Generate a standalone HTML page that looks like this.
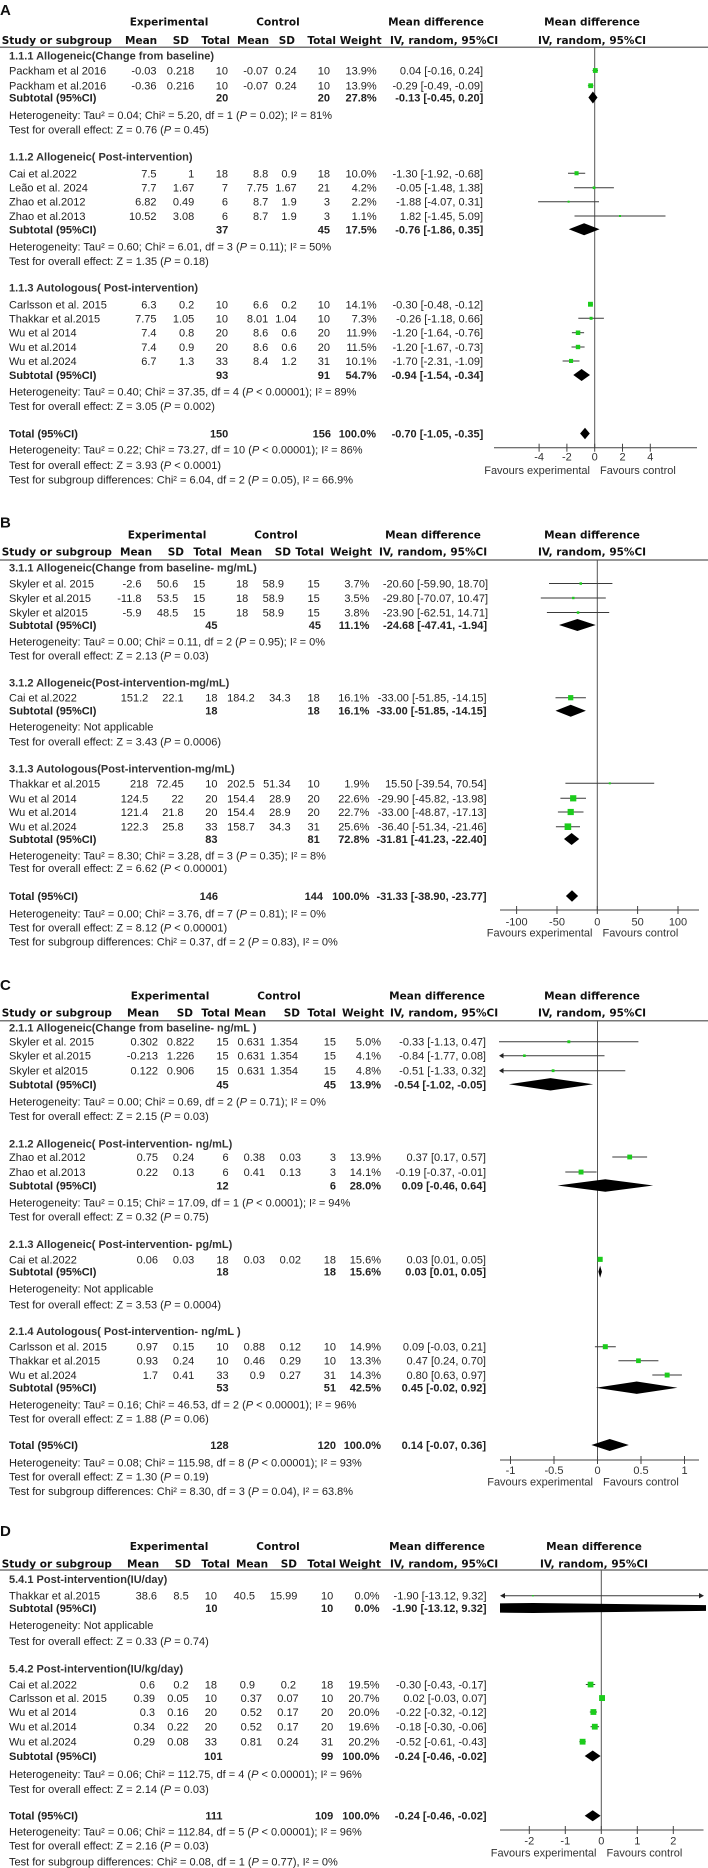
<!DOCTYPE html>
<html>
<head>
<meta charset="utf-8">
<style>
html,body{margin:0;padding:0;background:#fff;}
svg{display:block;}
text{font-family:"Liberation Sans",Arial,sans-serif;font-size:11px;fill:#222;}
.h{font-family:"DejaVu Sans","Liberation Sans",sans-serif;font-weight:bold;font-size:10.5px;fill:#111;}
.b{font-weight:bold;}
.sg{font-weight:bold;fill:#333;}
.lab{font-weight:bold;font-size:15px;fill:#111;}
.ax{fill:#333;}
.sq{fill:#1ccc1c;}
.ci{stroke:#3a3a3a;stroke-width:1;}
.z{stroke:#555;stroke-width:1;}
.hl{stroke:#777;stroke-width:1.5;}
</style>
</head>
<body>
<svg width="708" height="1868" viewBox="0 0 708 1868" xmlns="http://www.w3.org/2000/svg">
<defs>
<clipPath id="cd"><rect x="500" y="1590" width="206" height="40"/></clipPath>
</defs>
<rect x="0" y="0" width="708" height="1868" fill="#fff"/>

<!-- ================= PANEL A ================= -->
<text class="lab" x="0" y="15">A</text>
<text class="h" x="169" y="25.7" text-anchor="middle">Experimental</text>
<text class="h" x="278" y="25.7" text-anchor="middle">Control</text>
<text class="h" x="436" y="25.7" text-anchor="middle">Mean difference</text>
<text class="h" x="592" y="25.7" text-anchor="middle">Mean difference</text>
<text class="h" x="1.7" y="44">Study or subgroup</text>
<text class="h" x="125" y="44">Mean</text>
<text class="h" x="189" y="44" text-anchor="end">SD</text>
<text class="h" x="230" y="44" text-anchor="end">Total</text>
<text class="h" x="237" y="44">Mean</text>
<text class="h" x="295" y="44" text-anchor="end">SD</text>
<text class="h" x="336" y="44" text-anchor="end">Total</text>
<text class="h" x="381.7" y="44" text-anchor="end">Weight</text>
<text class="h" x="390" y="44">IV, random, 95%CI</text>
<text class="h" x="592" y="44" text-anchor="middle">IV, random, 95%CI</text>
<line class="hl" x1="0" y1="47.3" x2="708" y2="47.3"/>

<text class="sg" x="9" y="59.5">1.1.1 Allogeneic(Change from baseline)</text>
<text x="9" y="74.5">Packham et al 2016</text>
<g text-anchor="end"><text x="156.5" y="74.5">-0.03</text><text x="194.3" y="74.5">0.218</text><text x="228" y="74.5">10</text><text x="268.3" y="74.5">-0.07</text><text x="296.7" y="74.5">0.24</text><text x="330" y="74.5">10</text><text x="376.7" y="74.5">13.9%</text><text x="483" y="74.5">0.04 [-0.16, 0.24]</text></g>
<text x="9" y="89.7">Packham et al.2016</text>
<g text-anchor="end"><text x="156.5" y="89.7">-0.36</text><text x="194.3" y="89.7">0.216</text><text x="228" y="89.7">10</text><text x="268.3" y="89.7">-0.07</text><text x="296.7" y="89.7">0.24</text><text x="330" y="89.7">10</text><text x="376.7" y="89.7">13.9%</text><text x="483" y="89.7">-0.29 [-0.49, -0.09]</text></g>
<text class="b" x="9" y="101.5">Subtotal (95%CI)</text>
<g text-anchor="end" class="b"><text class="b" x="228.3" y="101.5">20</text><text class="b" x="330" y="101.5">20</text><text class="b" x="376.7" y="101.5">27.8%</text><text class="b" x="483.3" y="101.5">-0.13 [-0.45, 0.20]</text></g>
<text x="9" y="119">Heterogeneity: Tau² = 0.04; Chi² = 5.20, df = 1 (<tspan font-style="italic">P</tspan> = 0.02); I² = 81%</text>
<text x="9" y="133.3">Test for overall effect: Z = 0.76 (<tspan font-style="italic">P</tspan> = 0.45)</text>

<text class="sg" x="9" y="160.3">1.1.2 Allogeneic( Post-intervention)</text>
<text x="9" y="177.3">Cai et al.2022</text>
<g text-anchor="end"><text x="156.5" y="177.3">7.5</text><text x="194.3" y="177.3">1</text><text x="228" y="177.3">18</text><text x="268.3" y="177.3">8.8</text><text x="296.7" y="177.3">0.9</text><text x="330" y="177.3">18</text><text x="376.7" y="177.3">10.0%</text><text x="483" y="177.3">-1.30 [-1.92, -0.68]</text></g>
<text x="9" y="191.7">Leão et al. 2024</text>
<g text-anchor="end"><text x="156.5" y="191.7">7.7</text><text x="194.3" y="191.7">1.67</text><text x="228" y="191.7">7</text><text x="268.3" y="191.7">7.75</text><text x="296.7" y="191.7">1.67</text><text x="330" y="191.7">21</text><text x="376.7" y="191.7">4.2%</text><text x="483" y="191.7">-0.05 [-1.48, 1.38]</text></g>
<text x="9" y="205.7">Zhao et al.2012</text>
<g text-anchor="end"><text x="156.5" y="205.7">6.82</text><text x="194.3" y="205.7">0.49</text><text x="228" y="205.7">6</text><text x="268.3" y="205.7">8.7</text><text x="296.7" y="205.7">1.9</text><text x="330" y="205.7">3</text><text x="376.7" y="205.7">2.2%</text><text x="483" y="205.7">-1.88 [-4.07, 0.31]</text></g>
<text x="9" y="220">Zhao et al.2013</text>
<g text-anchor="end"><text x="156.5" y="220">10.52</text><text x="194.3" y="220">3.08</text><text x="228" y="220">6</text><text x="268.3" y="220">8.7</text><text x="296.7" y="220">1.9</text><text x="330" y="220">3</text><text x="376.7" y="220">1.1%</text><text x="483" y="220">1.82 [-1.45, 5.09]</text></g>
<text class="b" x="9" y="233.3">Subtotal (95%CI)</text>
<g text-anchor="end"><text class="b" x="228.3" y="233.3">37</text><text class="b" x="330" y="233.3">45</text><text class="b" x="376.7" y="233.3">17.5%</text><text class="b" x="483.3" y="233.3">-0.76 [-1.86, 0.35]</text></g>
<text x="9" y="250.7">Heterogeneity: Tau² = 0.60; Chi² = 6.01, df = 3 (<tspan font-style="italic">P</tspan> = 0.11); I² = 50%</text>
<text x="9" y="265">Test for overall effect: Z = 1.35 (<tspan font-style="italic">P</tspan> = 0.18)</text>

<text class="sg" x="9" y="291.7">1.1.3 Autologous( Post-intervention)</text>
<text x="9" y="308.3">Carlsson et al. 2015</text>
<g text-anchor="end"><text x="156.5" y="308.3">6.3</text><text x="194.3" y="308.3">0.2</text><text x="228" y="308.3">10</text><text x="268.3" y="308.3">6.6</text><text x="296.7" y="308.3">0.2</text><text x="330" y="308.3">10</text><text x="376.7" y="308.3">14.1%</text><text x="483" y="308.3">-0.30 [-0.48, -0.12]</text></g>
<text x="9" y="322.3">Thakkar et al.2015</text>
<g text-anchor="end"><text x="156.5" y="322.3">7.75</text><text x="194.3" y="322.3">1.05</text><text x="228" y="322.3">10</text><text x="268.3" y="322.3">8.01</text><text x="296.7" y="322.3">1.04</text><text x="330" y="322.3">10</text><text x="376.7" y="322.3">7.3%</text><text x="483" y="322.3">-0.26 [-1.18, 0.66]</text></g>
<text x="9" y="336.7">Wu et al 2014</text>
<g text-anchor="end"><text x="156.5" y="336.7">7.4</text><text x="194.3" y="336.7">0.8</text><text x="228" y="336.7">20</text><text x="268.3" y="336.7">8.6</text><text x="296.7" y="336.7">0.6</text><text x="330" y="336.7">20</text><text x="376.7" y="336.7">11.9%</text><text x="483" y="336.7">-1.20 [-1.64, -0.76]</text></g>
<text x="9" y="351">Wu et al.2014</text>
<g text-anchor="end"><text x="156.5" y="351">7.4</text><text x="194.3" y="351">0.9</text><text x="228" y="351">20</text><text x="268.3" y="351">8.6</text><text x="296.7" y="351">0.6</text><text x="330" y="351">20</text><text x="376.7" y="351">11.5%</text><text x="483" y="351">-1.20 [-1.67, -0.73]</text></g>
<text x="9" y="365">Wu et al.2024</text>
<g text-anchor="end"><text x="156.5" y="365">6.7</text><text x="194.3" y="365">1.3</text><text x="228" y="365">33</text><text x="268.3" y="365">8.4</text><text x="296.7" y="365">1.2</text><text x="330" y="365">31</text><text x="376.7" y="365">10.1%</text><text x="483" y="365">-1.70 [-2.31, -1.09]</text></g>
<text class="b" x="9" y="379">Subtotal (95%CI)</text>
<g text-anchor="end"><text class="b" x="228.3" y="379">93</text><text class="b" x="330" y="379">91</text><text class="b" x="376.7" y="379">54.7%</text><text class="b" x="483.3" y="379">-0.94 [-1.54, -0.34]</text></g>
<text x="9" y="395.7">Heterogeneity: Tau² = 0.40; Chi² = 37.35, df = 4 (<tspan font-style="italic">P</tspan> &lt; 0.00001); I² = 89%</text>
<text x="9" y="410">Test for overall effect: Z = 3.05 (<tspan font-style="italic">P</tspan> = 0.002)</text>

<text class="b" x="9" y="437.5">Total (95%CI)</text>
<g text-anchor="end"><text class="b" x="228.3" y="437.5">150</text><text class="b" x="331" y="437.5">156</text><text class="b" x="376" y="437.5">100.0%</text><text class="b" x="483.3" y="437.5">-0.70 [-1.05, -0.35]</text></g>
<text x="9" y="453.3">Heterogeneity: Tau² = 0.22; Chi² = 73.27, df = 10 (<tspan font-style="italic">P</tspan> &lt; 0.00001); I² = 86%</text>
<text x="9" y="469">Test for overall effect: Z = 3.93 (<tspan font-style="italic">P</tspan> &lt; 0.0001)</text>
<text x="9" y="483.3">Test for subgroup differences: Chi² = 6.04, df = 2 (<tspan font-style="italic">P</tspan> = 0.05), I² = 66.9%</text>

<!-- A forest -->
<line class="z" x1="594.7" y1="47.3" x2="594.7" y2="447.7"/>
<line class="ci" x1="592.5" y1="70.5" x2="598" y2="70.5"/><rect class="sq" x="592.9" y="68.1" width="4.8" height="4.8"/>
<line class="ci" x1="587.9" y1="85.7" x2="593.4" y2="85.7"/><rect class="sq" x="588.3" y="83.3" width="4.8" height="4.8"/>
<polygon points="588.4,97.5 592.9,91.5 597.5,97.5 592.9,103.5" fill="#000"/>
<line class="ci" x1="568" y1="173.3" x2="585.2" y2="173.3"/><rect class="sq" x="574.5" y="171.2" width="4.1" height="4.1"/>
<line class="ci" x1="574.1" y1="187.7" x2="613.9" y2="187.7"/><rect class="sq" x="592.7" y="186.4" width="2.7" height="2.7"/>
<line class="ci" x1="538.1" y1="201.7" x2="599" y2="201.7"/><rect class="sq" x="567.6" y="200.7" width="2" height="2"/>
<line class="ci" x1="574.5" y1="216" x2="665.5" y2="216"/><rect class="sq" x="619" y="215" width="2" height="2"/>
<polygon points="568.8,229.3 584.1,223.3 599.6,229.3 584.1,235.3" fill="#000"/>
<line class="ci" x1="588" y1="304.3" x2="593" y2="304.3"/><rect class="sq" x="588" y="301.8" width="4.9" height="4.9"/>
<line class="ci" x1="578.3" y1="318.3" x2="603.9" y2="318.3"/><rect class="sq" x="589.6" y="316.8" width="3" height="3"/>
<line class="ci" x1="571.9" y1="332.7" x2="584.1" y2="332.7"/><rect class="sq" x="575.8" y="330.5" width="4.5" height="4.5"/>
<line class="ci" x1="571.5" y1="347" x2="584.6" y2="347"/><rect class="sq" x="575.8" y="344.8" width="4.4" height="4.4"/>
<line class="ci" x1="562.6" y1="361" x2="579.5" y2="361"/><rect class="sq" x="569" y="358.9" width="4.1" height="4.1"/>
<polygon points="573.3,375 581.6,369 590,375 581.6,381" fill="#000"/>
<polygon points="580.1,433.5 585,427.8 589.8,433.5 585,439.2" fill="#000"/>
<line stroke="#444" x1="494" y1="447.7" x2="697" y2="447.7"/>
<g stroke="#444"><line x1="539.1" y1="443.7" x2="539.1" y2="451.7"/><line x1="566.9" y1="443.7" x2="566.9" y2="451.7"/><line x1="594.7" y1="443.7" x2="594.7" y2="451.7"/><line x1="622.5" y1="443.7" x2="622.5" y2="451.7"/><line x1="650.3" y1="443.7" x2="650.3" y2="451.7"/></g>
<g text-anchor="middle" class="ax"><text class="ax" x="539.1" y="460.7">-4</text><text class="ax" x="566.9" y="460.7">-2</text><text class="ax" x="594.7" y="460.7">0</text><text class="ax" x="622.5" y="460.7">2</text><text class="ax" x="650.3" y="460.7">4</text></g>
<text class="ax" x="590" y="474" text-anchor="end">Favours experimental</text>
<text class="ax" x="600" y="474">Favours control</text>

<!-- ================= PANEL B ================= -->
<text class="lab" x="0" y="527.3">B</text>
<text class="h" x="167" y="538.5" text-anchor="middle">Experimental</text>
<text class="h" x="276" y="538.5" text-anchor="middle">Control</text>
<text class="h" x="433" y="538.5" text-anchor="middle">Mean difference</text>
<text class="h" x="592" y="538.5" text-anchor="middle">Mean difference</text>
<text class="h" x="1.7" y="555.7">Study or subgroup</text>
<text class="h" x="120" y="555.7">Mean</text>
<text class="h" x="184" y="555.7" text-anchor="end">SD</text>
<text class="h" x="222" y="555.7" text-anchor="end">Total</text>
<text class="h" x="230" y="555.7">Mean</text>
<text class="h" x="291" y="555.7" text-anchor="end">SD</text>
<text class="h" x="324" y="555.7" text-anchor="end">Total</text>
<text class="h" x="372" y="555.7" text-anchor="end">Weight</text>
<text class="h" x="379" y="555.7">IV, random, 95%CI</text>
<text class="h" x="592" y="555.7" text-anchor="middle">IV, random, 95%CI</text>
<line class="hl" x1="0" y1="560" x2="708" y2="560"/>

<text class="sg" x="9" y="571.5">3.1.1 Allogeneic(Change from baseline- mg/mL)</text>
<text x="9" y="587.5">Skyler et al. 2015</text>
<g text-anchor="end"><text x="141.5" y="587.5">-2.6</text><text x="178.3" y="587.5">50.6</text><text x="205.3" y="587.5">15</text><text x="248.3" y="587.5">18</text><text x="284" y="587.5">58.9</text><text x="319.8" y="587.5">15</text><text x="369.4" y="587.5">3.7%</text><text x="488" y="587.5">-20.60 [-59.90, 18.70]</text></g>
<text x="9" y="602">Skyler et al.2015</text>
<g text-anchor="end"><text x="141.5" y="602">-11.8</text><text x="178.3" y="602">53.5</text><text x="205.3" y="602">15</text><text x="248.3" y="602">18</text><text x="284" y="602">58.9</text><text x="319.8" y="602">15</text><text x="369.4" y="602">3.5%</text><text x="488" y="602">-29.80 [-70.07, 10.47]</text></g>
<text x="9" y="616.5">Skyler et al2015</text>
<g text-anchor="end"><text x="141.5" y="616.5">-5.9</text><text x="178.3" y="616.5">48.5</text><text x="205.3" y="616.5">15</text><text x="248.3" y="616.5">18</text><text x="284" y="616.5">58.9</text><text x="319.8" y="616.5">15</text><text x="369.4" y="616.5">3.8%</text><text x="488" y="616.5">-23.90 [-62.51, 14.71]</text></g>
<text class="b" x="9" y="629">Subtotal (95%CI)</text>
<g text-anchor="end"><text class="b" x="217.5" y="629">45</text><text class="b" x="321" y="629">45</text><text class="b" x="369.4" y="629">11.1%</text><text class="b" x="487" y="629">-24.68 [-47.41, -1.94]</text></g>
<text x="9" y="645.7">Heterogeneity: Tau² = 0.00; Chi² = 0.11, df = 2 (<tspan font-style="italic">P</tspan> = 0.95); I² = 0%</text>
<text x="9" y="659.5">Test for overall effect: Z = 2.13 (<tspan font-style="italic">P</tspan> = 0.03)</text>

<text class="sg" x="9" y="686.7">3.1.2 Allogeneic(Post-intervention-mg/mL)</text>
<text x="9" y="701.7">Cai et al.2022</text>
<g text-anchor="end"><text x="148.3" y="701.7">151.2</text><text x="183.7" y="701.7">22.1</text><text x="217.5" y="701.7">18</text><text x="254.7" y="701.7">184.2</text><text x="290.6" y="701.7">34.3</text><text x="319.8" y="701.7">18</text><text x="369.4" y="701.7">16.1%</text><text x="486.6" y="701.7">-33.00 [-51.85, -14.15]</text></g>
<text class="b" x="9" y="714.7">Subtotal (95%CI)</text>
<g text-anchor="end"><text class="b" x="217.5" y="714.7">18</text><text class="b" x="319.8" y="714.7">18</text><text class="b" x="369.4" y="714.7">16.1%</text><text class="b" x="486.6" y="714.7">-33.00 [-51.85, -14.15]</text></g>
<text x="9" y="730.7">Heterogeneity: Not applicable</text>
<text x="9" y="745.7">Test for overall effect: Z = 3.43 (<tspan font-style="italic">P</tspan> = 0.0006)</text>

<text class="sg" x="9" y="772.3">3.1.3 Autologous(Post-intervention-mg/mL)</text>
<text x="9" y="787.3">Thakkar et al.2015</text>
<g text-anchor="end"><text x="148.3" y="787.3">218</text><text x="183.7" y="787.3">72.45</text><text x="217.5" y="787.3">10</text><text x="254.7" y="787.3">202.5</text><text x="290.6" y="787.3">51.34</text><text x="319.8" y="787.3">10</text><text x="369.4" y="787.3">1.9%</text><text x="486.6" y="787.3">15.50 [-39.54, 70.54]</text></g>
<text x="9" y="802.3">Wu et al 2014</text>
<g text-anchor="end"><text x="148.3" y="802.3">124.5</text><text x="183.7" y="802.3">22</text><text x="217.5" y="802.3">20</text><text x="254.7" y="802.3">154.4</text><text x="290.6" y="802.3">28.9</text><text x="319.8" y="802.3">20</text><text x="369.4" y="802.3">22.6%</text><text x="486.6" y="802.3">-29.90 [-45.82, -13.98]</text></g>
<text x="9" y="816">Wu et al.2014</text>
<g text-anchor="end"><text x="148.3" y="816">121.4</text><text x="183.7" y="816">21.8</text><text x="217.5" y="816">20</text><text x="254.7" y="816">154.4</text><text x="290.6" y="816">28.9</text><text x="319.8" y="816">20</text><text x="369.4" y="816">22.7%</text><text x="486.6" y="816">-33.00 [-48.87, -17.13]</text></g>
<text x="9" y="830.7">Wu et al.2024</text>
<g text-anchor="end"><text x="148.3" y="830.7">122.3</text><text x="183.7" y="830.7">25.8</text><text x="217.5" y="830.7">33</text><text x="254.7" y="830.7">158.7</text><text x="290.6" y="830.7">34.3</text><text x="319.8" y="830.7">31</text><text x="369.4" y="830.7">25.6%</text><text x="486.6" y="830.7">-36.40 [-51.34, -21.46]</text></g>
<text class="b" x="9" y="843">Subtotal (95%CI)</text>
<g text-anchor="end"><text class="b" x="217.5" y="843">83</text><text class="b" x="319.8" y="843">81</text><text class="b" x="369.4" y="843">72.8%</text><text class="b" x="486.6" y="843">-31.81 [-41.23, -22.40]</text></g>
<text x="9" y="859.5">Heterogeneity: Tau² = 8.30; Chi² = 3.28, df = 3 (<tspan font-style="italic">P</tspan> = 0.35); I² = 8%</text>
<text x="9" y="872">Test for overall effect: Z = 6.62 (<tspan font-style="italic">P</tspan> &lt; 0.00001)</text>

<text class="b" x="9" y="900">Total (95%CI)</text>
<g text-anchor="end"><text class="b" x="218" y="900">146</text><text class="b" x="323" y="900">144</text><text class="b" x="369.4" y="900">100.0%</text><text class="b" x="486.6" y="900">-31.33 [-38.90, -23.77]</text></g>
<text x="9" y="917.3">Heterogeneity: Tau² = 0.00; Chi² = 3.76, df = 7 (<tspan font-style="italic">P</tspan> = 0.81); I² = 0%</text>
<text x="9" y="931.3">Test for overall effect: Z = 8.12 (<tspan font-style="italic">P</tspan> &lt; 0.00001)</text>
<text x="9" y="945.7">Test for subgroup differences: Chi² = 0.37, df = 2 (<tspan font-style="italic">P</tspan> = 0.83), I² = 0%</text>

<!-- B forest -->
<line class="z" x1="597.3" y1="560" x2="597.3" y2="910"/>
<line class="ci" x1="549" y1="583.5" x2="612.4" y2="583.5"/><rect class="sq" x="579.5" y="582.3" width="2.5" height="2.5"/>
<line class="ci" x1="540.8" y1="598" x2="605.8" y2="598"/><rect class="sq" x="572.1" y="596.8" width="2.4" height="2.4"/>
<line class="ci" x1="546.9" y1="612.5" x2="609.2" y2="612.5"/><rect class="sq" x="576.8" y="611.3" width="2.5" height="2.5"/>
<polygon points="559,625 577.4,619 595.7,625 577.4,631" fill="#000"/>
<line class="ci" x1="555.5" y1="697.7" x2="585.9" y2="697.7"/><rect class="sq" x="568.1" y="695.1" width="5.2" height="5.2"/>
<polygon points="555.5,710.7 570.7,704.7 585.9,710.7 570.7,716.7" fill="#000"/>
<line class="ci" x1="565.4" y1="783.3" x2="654.2" y2="783.3"/><rect class="sq" x="608.8" y="782.3" width="2" height="2"/>
<line class="ci" x1="560.4" y1="798.3" x2="586" y2="798.3"/><rect class="sq" x="570.1" y="795.2" width="6.2" height="6.2"/>
<line class="ci" x1="557.9" y1="812" x2="583.5" y2="812"/><rect class="sq" x="567.6" y="808.9" width="6.2" height="6.2"/>
<line class="ci" x1="555.9" y1="826.7" x2="580" y2="826.7"/><rect class="sq" x="564.6" y="823.4" width="6.6" height="6.6"/>
<polygon points="564,839 571.6,833 579.2,839 571.6,845" fill="#000"/>
<polygon points="565.9,896 572,890.3 578.1,896 572,901.7" fill="#000"/>
<line stroke="#444" x1="500" y1="910" x2="699" y2="910"/>
<g stroke="#444"><line x1="516.6" y1="906" x2="516.6" y2="914"/><line x1="557" y1="906" x2="557" y2="914"/><line x1="597.3" y1="906" x2="597.3" y2="914"/><line x1="637.6" y1="906" x2="637.6" y2="914"/><line x1="678" y1="906" x2="678" y2="914"/></g>
<g text-anchor="middle"><text class="ax" x="516.6" y="925.5">-100</text><text class="ax" x="557" y="925.5">-50</text><text class="ax" x="597.3" y="925.5">0</text><text class="ax" x="637.6" y="925.5">50</text><text class="ax" x="678" y="925.5">100</text></g>
<text class="ax" x="592.5" y="936.5" text-anchor="end">Favours experimental</text>
<text class="ax" x="602.5" y="936.5">Favours control</text>

<!-- ================= PANEL C ================= -->
<text class="lab" x="0" y="990">C</text>
<text class="h" x="170" y="999.5" text-anchor="middle">Experimental</text>
<text class="h" x="279" y="999.5" text-anchor="middle">Control</text>
<text class="h" x="437" y="999.5" text-anchor="middle">Mean difference</text>
<text class="h" x="592" y="999.5" text-anchor="middle">Mean difference</text>
<text class="h" x="1.7" y="1016.7">Study or subgroup</text>
<text class="h" x="127" y="1016.7">Mean</text>
<text class="h" x="193" y="1016.7" text-anchor="end">SD</text>
<text class="h" x="230" y="1016.7" text-anchor="end">Total</text>
<text class="h" x="234" y="1016.7">Mean</text>
<text class="h" x="300" y="1016.7" text-anchor="end">SD</text>
<text class="h" x="336" y="1016.7" text-anchor="end">Total</text>
<text class="h" x="384" y="1016.7" text-anchor="end">Weight</text>
<text class="h" x="390" y="1016.7">IV, random, 95%CI</text>
<text class="h" x="592" y="1016.7" text-anchor="middle">IV, random, 95%CI</text>
<line class="hl" x1="0" y1="1020.7" x2="708" y2="1020.7"/>

<text class="sg" x="9" y="1031.5">2.1.1 Allogeneic(Change from baseline- ng/mL )</text>
<text x="9" y="1045.7">Skyler et al. 2015</text>
<g text-anchor="end"><text x="158" y="1045.7">0.302</text><text x="194.3" y="1045.7">0.822</text><text x="228.6" y="1045.7">15</text><text x="265" y="1045.7">0.631</text><text x="298" y="1045.7">1.354</text><text x="336" y="1045.7">15</text><text x="381" y="1045.7">5.0%</text><text x="486" y="1045.7">-0.33 [-1.13, 0.47]</text></g>
<text x="9" y="1059.7">Skyler et al.2015</text>
<g text-anchor="end"><text x="158" y="1059.7">-0.213</text><text x="194.3" y="1059.7">1.226</text><text x="228.6" y="1059.7">15</text><text x="265" y="1059.7">0.631</text><text x="298" y="1059.7">1.354</text><text x="336" y="1059.7">15</text><text x="381" y="1059.7">4.1%</text><text x="486" y="1059.7">-0.84 [-1.77, 0.08]</text></g>
<text x="9" y="1074.7">Skyler et al2015</text>
<g text-anchor="end"><text x="158" y="1074.7">0.122</text><text x="194.3" y="1074.7">0.906</text><text x="228.6" y="1074.7">15</text><text x="265" y="1074.7">0.631</text><text x="298" y="1074.7">1.354</text><text x="336" y="1074.7">15</text><text x="381" y="1074.7">4.8%</text><text x="486" y="1074.7">-0.51 [-1.33, 0.32]</text></g>
<text class="b" x="9" y="1088.3">Subtotal (95%CI)</text>
<g text-anchor="end"><text class="b" x="228.6" y="1088.3">45</text><text class="b" x="336" y="1088.3">45</text><text class="b" x="381" y="1088.3">13.9%</text><text class="b" x="486" y="1088.3">-0.54 [-1.02, -0.05]</text></g>
<text x="9" y="1105.7">Heterogeneity: Tau² = 0.00; Chi² = 0.69, df = 2 (<tspan font-style="italic">P</tspan> = 0.71); I² = 0%</text>
<text x="9" y="1120">Test for overall effect: Z = 2.15 (<tspan font-style="italic">P</tspan> = 0.03)</text>

<text class="sg" x="9" y="1147.3">2.1.2 Allogeneic( Post-intervention- ng/mL)</text>
<text x="9" y="1161">Zhao et al.2012</text>
<g text-anchor="end"><text x="158" y="1161">0.75</text><text x="194.3" y="1161">0.24</text><text x="228.6" y="1161">6</text><text x="265" y="1161">0.38</text><text x="301" y="1161">0.03</text><text x="336" y="1161">3</text><text x="381" y="1161">13.9%</text><text x="486" y="1161">0.37 [0.17, 0.57]</text></g>
<text x="9" y="1176">Zhao et al.2013</text>
<g text-anchor="end"><text x="158" y="1176">0.22</text><text x="194.3" y="1176">0.13</text><text x="228.6" y="1176">6</text><text x="265" y="1176">0.41</text><text x="301" y="1176">0.13</text><text x="336" y="1176">3</text><text x="381" y="1176">14.1%</text><text x="486" y="1176">-0.19 [-0.37, -0.01]</text></g>
<text class="b" x="9" y="1189.5">Subtotal (95%CI)</text>
<g text-anchor="end"><text class="b" x="228.6" y="1189.5">12</text><text class="b" x="336" y="1189.5">6</text><text class="b" x="381" y="1189.5">28.0%</text><text class="b" x="486" y="1189.5">0.09 [-0.46, 0.64]</text></g>
<text x="9" y="1206.7">Heterogeneity: Tau² = 0.15; Chi² = 17.09, df = 1 (<tspan font-style="italic">P</tspan> &lt; 0.0001); I² = 94%</text>
<text x="9" y="1220.7">Test for overall effect: Z = 0.32 (<tspan font-style="italic">P</tspan> = 0.75)</text>

<text class="sg" x="9" y="1248">2.1.3 Allogeneic( Post-intervention- pg/mL)</text>
<text x="9" y="1263.3">Cai et al.2022</text>
<g text-anchor="end"><text x="158" y="1263.3">0.06</text><text x="194.3" y="1263.3">0.03</text><text x="228.6" y="1263.3">18</text><text x="265" y="1263.3">0.03</text><text x="301" y="1263.3">0.02</text><text x="336" y="1263.3">18</text><text x="381" y="1263.3">15.6%</text><text x="486" y="1263.3">0.03 [0.01, 0.05]</text></g>
<text class="b" x="9" y="1275.7">Subtotal (95%CI)</text>
<g text-anchor="end"><text class="b" x="228.6" y="1275.7">18</text><text class="b" x="336" y="1275.7">18</text><text class="b" x="381" y="1275.7">15.6%</text><text class="b" x="486" y="1275.7">0.03 [0.01, 0.05]</text></g>
<text x="9" y="1292.3">Heterogeneity: Not applicable</text>
<text x="9" y="1308.3">Test for overall effect: Z = 3.53 (<tspan font-style="italic">P</tspan> = 0.0004)</text>

<text class="sg" x="9" y="1335">2.1.4 Autologous( Post-intervention- ng/mL )</text>
<text x="9" y="1350.7">Carlsson et al. 2015</text>
<g text-anchor="end"><text x="158" y="1350.7">0.97</text><text x="194.3" y="1350.7">0.15</text><text x="228.6" y="1350.7">10</text><text x="265" y="1350.7">0.88</text><text x="301" y="1350.7">0.12</text><text x="336" y="1350.7">10</text><text x="381" y="1350.7">14.9%</text><text x="486" y="1350.7">0.09 [-0.03, 0.21]</text></g>
<text x="9" y="1364.7">Thakkar et al.2015</text>
<g text-anchor="end"><text x="158" y="1364.7">0.93</text><text x="194.3" y="1364.7">0.24</text><text x="228.6" y="1364.7">10</text><text x="265" y="1364.7">0.46</text><text x="301" y="1364.7">0.29</text><text x="336" y="1364.7">10</text><text x="381" y="1364.7">13.3%</text><text x="486" y="1364.7">0.47 [0.24, 0.70]</text></g>
<text x="9" y="1379">Wu et al.2024</text>
<g text-anchor="end"><text x="158" y="1379">1.7</text><text x="194.3" y="1379">0.41</text><text x="228.6" y="1379">33</text><text x="265" y="1379">0.9</text><text x="301" y="1379">0.27</text><text x="336" y="1379">31</text><text x="381" y="1379">14.3%</text><text x="486" y="1379">0.80 [0.63, 0.97]</text></g>
<text class="b" x="9" y="1391.7">Subtotal (95%CI)</text>
<g text-anchor="end"><text class="b" x="228.6" y="1391.7">53</text><text class="b" x="336" y="1391.7">51</text><text class="b" x="381" y="1391.7">42.5%</text><text class="b" x="486" y="1391.7">0.45 [-0.02, 0.92]</text></g>
<text x="9" y="1408.3">Heterogeneity: Tau² = 0.16; Chi² = 46.53, df = 2 (<tspan font-style="italic">P</tspan> &lt; 0.00001); I² = 96%</text>
<text x="9" y="1422.3">Test for overall effect: Z = 1.88 (<tspan font-style="italic">P</tspan> = 0.06)</text>

<text class="b" x="9" y="1449">Total (95%CI)</text>
<g text-anchor="end"><text class="b" x="228.6" y="1449">128</text><text class="b" x="336" y="1449">120</text><text class="b" x="381" y="1449">100.0%</text><text class="b" x="486" y="1449">0.14 [-0.07, 0.36]</text></g>
<text x="9" y="1466.3">Heterogeneity: Tau² = 0.08; Chi² = 115.98, df = 8 (<tspan font-style="italic">P</tspan> &lt; 0.00001); I² = 93%</text>
<text x="9" y="1480.7">Test for overall effect: Z = 1.30 (<tspan font-style="italic">P</tspan> = 0.19)</text>
<text x="9" y="1495">Test for subgroup differences: Chi² = 8.30, df = 3 (<tspan font-style="italic">P</tspan> = 0.04), I² = 63.8%</text>

<!-- C forest -->
<line class="z" x1="597.5" y1="1020.7" x2="597.5" y2="1460"/>
<line class="ci" x1="499" y1="1041.7" x2="638.4" y2="1041.7"/><rect class="sq" x="567.4" y="1040.3" width="2.9" height="2.9"/>
<line class="ci" x1="501" y1="1055.7" x2="604.5" y2="1055.7"/><polygon points="499,1055.7 503.5,1053 503.5,1058.4" fill="#222"/><rect class="sq" x="523.1" y="1054.4" width="2.6" height="2.6"/>
<line class="ci" x1="501" y1="1070.7" x2="625.3" y2="1070.7"/><polygon points="499,1070.7 503.5,1068 503.5,1073.4" fill="#222"/><rect class="sq" x="551.7" y="1069.3" width="2.8" height="2.8"/>
<polygon points="508.8,1084.3 550.5,1078.1 593.2,1084.3 550.5,1090.5" fill="#000"/>
<line class="ci" x1="612.3" y1="1157" x2="647.1" y2="1157" stroke="#666"/><rect class="sq" x="627.3" y="1154.6" width="4.8" height="4.8"/>
<line class="ci" x1="565.3" y1="1172" x2="596.6" y2="1172"/><rect class="sq" x="578.6" y="1169.6" width="4.9" height="4.9"/>
<polygon points="557.5,1185.5 605.3,1179.3 653.2,1185.5 605.3,1191.7" fill="#000"/>
<line class="ci" x1="598.4" y1="1259.3" x2="601.9" y2="1259.3"/><rect class="sq" x="597.6" y="1256.8" width="5.1" height="5.1"/>
<polygon points="598.4,1271.7 600.1,1265.7 601.9,1271.7 600.1,1277.7" fill="#000"/>
<line class="ci" x1="594.9" y1="1346.7" x2="615.8" y2="1346.7"/><rect class="sq" x="602.8" y="1344.2" width="5" height="5"/>
<line class="ci" x1="618.4" y1="1360.7" x2="658.4" y2="1360.7"/><rect class="sq" x="636.1" y="1358.4" width="4.7" height="4.7"/>
<line class="ci" x1="652.3" y1="1375" x2="681.9" y2="1375"/><rect class="sq" x="664.7" y="1372.6" width="4.9" height="4.9"/>
<polygon points="595.8,1387.7 636.7,1381.5 677.5,1387.7 636.7,1393.9" fill="#000"/>
<polygon points="591.4,1445 609.7,1439 628.8,1445 609.7,1451" fill="#000"/>
<line stroke="#444" x1="500" y1="1460" x2="699" y2="1460"/>
<g stroke="#444"><line x1="510.5" y1="1456" x2="510.5" y2="1464"/><line x1="554" y1="1456" x2="554" y2="1464"/><line x1="597.5" y1="1456" x2="597.5" y2="1464"/><line x1="641" y1="1456" x2="641" y2="1464"/><line x1="684.5" y1="1456" x2="684.5" y2="1464"/></g>
<g text-anchor="middle"><text class="ax" x="510.5" y="1474">-1</text><text class="ax" x="554" y="1474">-0.5</text><text class="ax" x="597.5" y="1474">0</text><text class="ax" x="641" y="1474">0.5</text><text class="ax" x="684.5" y="1474">1</text></g>
<text class="ax" x="593" y="1485.7" text-anchor="end">Favours experimental</text>
<text class="ax" x="603" y="1485.7">Favours control</text>

<!-- ================= PANEL D ================= -->
<text class="lab" x="0" y="1536">D</text>
<text class="h" x="169" y="1550" text-anchor="middle">Experimental</text>
<text class="h" x="278" y="1550" text-anchor="middle">Control</text>
<text class="h" x="437" y="1550" text-anchor="middle">Mean difference</text>
<text class="h" x="594" y="1550" text-anchor="middle">Mean difference</text>
<text class="h" x="1.7" y="1567.3">Study or subgroup</text>
<text class="h" x="127" y="1567.3">Mean</text>
<text class="h" x="191" y="1567.3" text-anchor="end">SD</text>
<text class="h" x="230" y="1567.3" text-anchor="end">Total</text>
<text class="h" x="236" y="1567.3">Mean</text>
<text class="h" x="297" y="1567.3" text-anchor="end">SD</text>
<text class="h" x="336" y="1567.3" text-anchor="end">Total</text>
<text class="h" x="381" y="1567.3" text-anchor="end">Weight</text>
<text class="h" x="390" y="1567.3">IV, random, 95%CI</text>
<text class="h" x="594" y="1567.3" text-anchor="middle">IV, random, 95%CI</text>
<line class="hl" x1="0" y1="1570" x2="708" y2="1570"/>

<text class="sg" x="9" y="1583">5.4.1 Post-intervention(IU/day)</text>
<text x="9" y="1599.7">Thakkar et al.2015</text>
<g text-anchor="end"><text x="157" y="1599.7">38.6</text><text x="188.7" y="1599.7">8.5</text><text x="217" y="1599.7">10</text><text x="255" y="1599.7">40.5</text><text x="297.4" y="1599.7">15.99</text><text x="333.3" y="1599.7">10</text><text x="379.6" y="1599.7">0.0%</text><text x="486.5" y="1599.7">-1.90 [-13.12, 9.32]</text></g>
<text class="b" x="9" y="1612">Subtotal (95%CI)</text>
<g text-anchor="end"><text class="b" x="217.5" y="1612">10</text><text class="b" x="333.3" y="1612">10</text><text class="b" x="379.6" y="1612">0.0%</text><text class="b" x="486.5" y="1612">-1.90 [-13.12, 9.32]</text></g>
<text x="9" y="1629">Heterogeneity: Not applicable</text>
<text x="9" y="1645">Test for overall effect: Z = 0.33 (<tspan font-style="italic">P</tspan> = 0.74)</text>

<text class="sg" x="9" y="1672.3">5.4.2 Post-intervention(IU/kg/day)</text>
<text x="9" y="1688.5">Cai et al.2022</text>
<g text-anchor="end"><text x="155" y="1688.5">0.6</text><text x="188.7" y="1688.5">0.2</text><text x="217" y="1688.5">18</text><text x="255" y="1688.5">0.9</text><text x="296" y="1688.5">0.2</text><text x="333.3" y="1688.5">18</text><text x="379.6" y="1688.5">19.5%</text><text x="486.5" y="1688.5">-0.30 [-0.43, -0.17]</text></g>
<text x="9" y="1702">Carlsson et al. 2015</text>
<g text-anchor="end"><text x="155" y="1702">0.39</text><text x="188.7" y="1702">0.05</text><text x="217" y="1702">10</text><text x="262" y="1702">0.37</text><text x="298.7" y="1702">0.07</text><text x="333.3" y="1702">10</text><text x="379.6" y="1702">20.7%</text><text x="486.5" y="1702">0.02 [-0.03, 0.07]</text></g>
<text x="9" y="1716">Wu et al 2014</text>
<g text-anchor="end"><text x="155" y="1716">0.3</text><text x="188.7" y="1716">0.16</text><text x="217" y="1716">20</text><text x="262" y="1716">0.52</text><text x="298.7" y="1716">0.17</text><text x="333.3" y="1716">20</text><text x="379.6" y="1716">20.0%</text><text x="486.5" y="1716">-0.22 [-0.32, -0.12]</text></g>
<text x="9" y="1730.7">Wu et al.2014</text>
<g text-anchor="end"><text x="155" y="1730.7">0.34</text><text x="188.7" y="1730.7">0.22</text><text x="217" y="1730.7">20</text><text x="262" y="1730.7">0.52</text><text x="298.7" y="1730.7">0.17</text><text x="333.3" y="1730.7">20</text><text x="379.6" y="1730.7">19.6%</text><text x="486.5" y="1730.7">-0.18 [-0.30, -0.06]</text></g>
<text x="9" y="1745.7">Wu et al.2024</text>
<g text-anchor="end"><text x="155" y="1745.7">0.29</text><text x="188.7" y="1745.7">0.08</text><text x="217" y="1745.7">33</text><text x="262" y="1745.7">0.81</text><text x="298.7" y="1745.7">0.24</text><text x="333.3" y="1745.7">31</text><text x="379.6" y="1745.7">20.2%</text><text x="486.5" y="1745.7">-0.52 [-0.61, -0.43]</text></g>
<text class="b" x="9" y="1760">Subtotal (95%CI)</text>
<g text-anchor="end"><text class="b" x="222.5" y="1760">101</text><text class="b" x="333.3" y="1760">99</text><text class="b" x="379.6" y="1760">100.0%</text><text class="b" x="486.5" y="1760">-0.24 [-0.46, -0.02]</text></g>
<text x="9" y="1778">Heterogeneity: Tau² = 0.06; Chi² = 112.75, df = 4 (<tspan font-style="italic">P</tspan> &lt; 0.00001); I² = 96%</text>
<text x="9" y="1793">Test for overall effect: Z = 2.14 (<tspan font-style="italic">P</tspan> = 0.03)</text>

<text class="b" x="9" y="1819.7">Total (95%CI)</text>
<g text-anchor="end"><text class="b" x="222.5" y="1819.7">111</text><text class="b" x="333.3" y="1819.7">109</text><text class="b" x="379.6" y="1819.7">100.0%</text><text class="b" x="486.5" y="1819.7">-0.24 [-0.46, -0.02]</text></g>
<text x="9" y="1835.7">Heterogeneity: Tau² = 0.06; Chi² = 112.84, df = 5 (<tspan font-style="italic">P</tspan> &lt; 0.00001); I² = 96%</text>
<text x="9" y="1849.7">Test for overall effect: Z = 2.16 (<tspan font-style="italic">P</tspan> = 0.03)</text>
<text x="9" y="1865.7">Test for subgroup differences: Chi² = 0.08, df = 1 (<tspan font-style="italic">P</tspan> = 0.77), I² = 0%</text>

<!-- D forest -->
<line class="z" x1="601.3" y1="1570" x2="601.3" y2="1830"/>
<line class="ci" x1="504" y1="1595.7" x2="701.5" y2="1595.7"/>
<polygon points="500,1595.7 505,1593 505,1598.4" fill="#222"/>
<polygon points="704,1595.7 699,1593 699,1598.4" fill="#222"/>
<rect class="sq" x="532.2" y="1595" width="1.5" height="1.5"/>
<polygon clip-path="url(#cd)" points="129,1608 532.9,1603 936.8,1608 532.9,1613" fill="#000"/>
<line class="ci" x1="585.8" y1="1684.5" x2="595.2" y2="1684.5"/><rect class="sq" x="587.7" y="1681.7" width="5.7" height="5.7"/>
<line class="ci" x1="600.2" y1="1698" x2="603.8" y2="1698"/><rect class="sq" x="599.1" y="1695.1" width="5.9" height="5.9"/>
<line class="ci" x1="589.8" y1="1712" x2="597" y2="1712"/><rect class="sq" x="590.5" y="1709.1" width="5.8" height="5.8"/>
<line class="ci" x1="590.5" y1="1726.7" x2="599.1" y2="1726.7"/><rect class="sq" x="591.9" y="1723.8" width="5.8" height="5.8"/>
<line class="ci" x1="579.3" y1="1741.7" x2="585.8" y2="1741.7"/><rect class="sq" x="579.7" y="1738.8" width="5.8" height="5.8"/>
<polygon points="584.7,1756 592.7,1750.5 600.6,1756 592.7,1761.5" fill="#000"/>
<polygon points="584.7,1815.7 592.7,1810.2 600.6,1815.7 592.7,1821.2" fill="#000"/>
<line stroke="#444" x1="500" y1="1830" x2="703.5" y2="1830"/>
<g stroke="#444"><line x1="529.3" y1="1826" x2="529.3" y2="1834"/><line x1="565.3" y1="1826" x2="565.3" y2="1834"/><line x1="601.3" y1="1826" x2="601.3" y2="1834"/><line x1="637.3" y1="1826" x2="637.3" y2="1834"/><line x1="673.3" y1="1826" x2="673.3" y2="1834"/></g>
<g text-anchor="middle"><text class="ax" x="529.3" y="1844.7">-2</text><text class="ax" x="565.3" y="1844.7">-1</text><text class="ax" x="601.3" y="1844.7">0</text><text class="ax" x="637.3" y="1844.7">1</text><text class="ax" x="673.3" y="1844.7">2</text></g>
<text class="ax" x="596.5" y="1856.7" text-anchor="end">Favours experimental</text>
<text class="ax" x="606.5" y="1856.7">Favours control</text>
</svg>
</body>
</html>
